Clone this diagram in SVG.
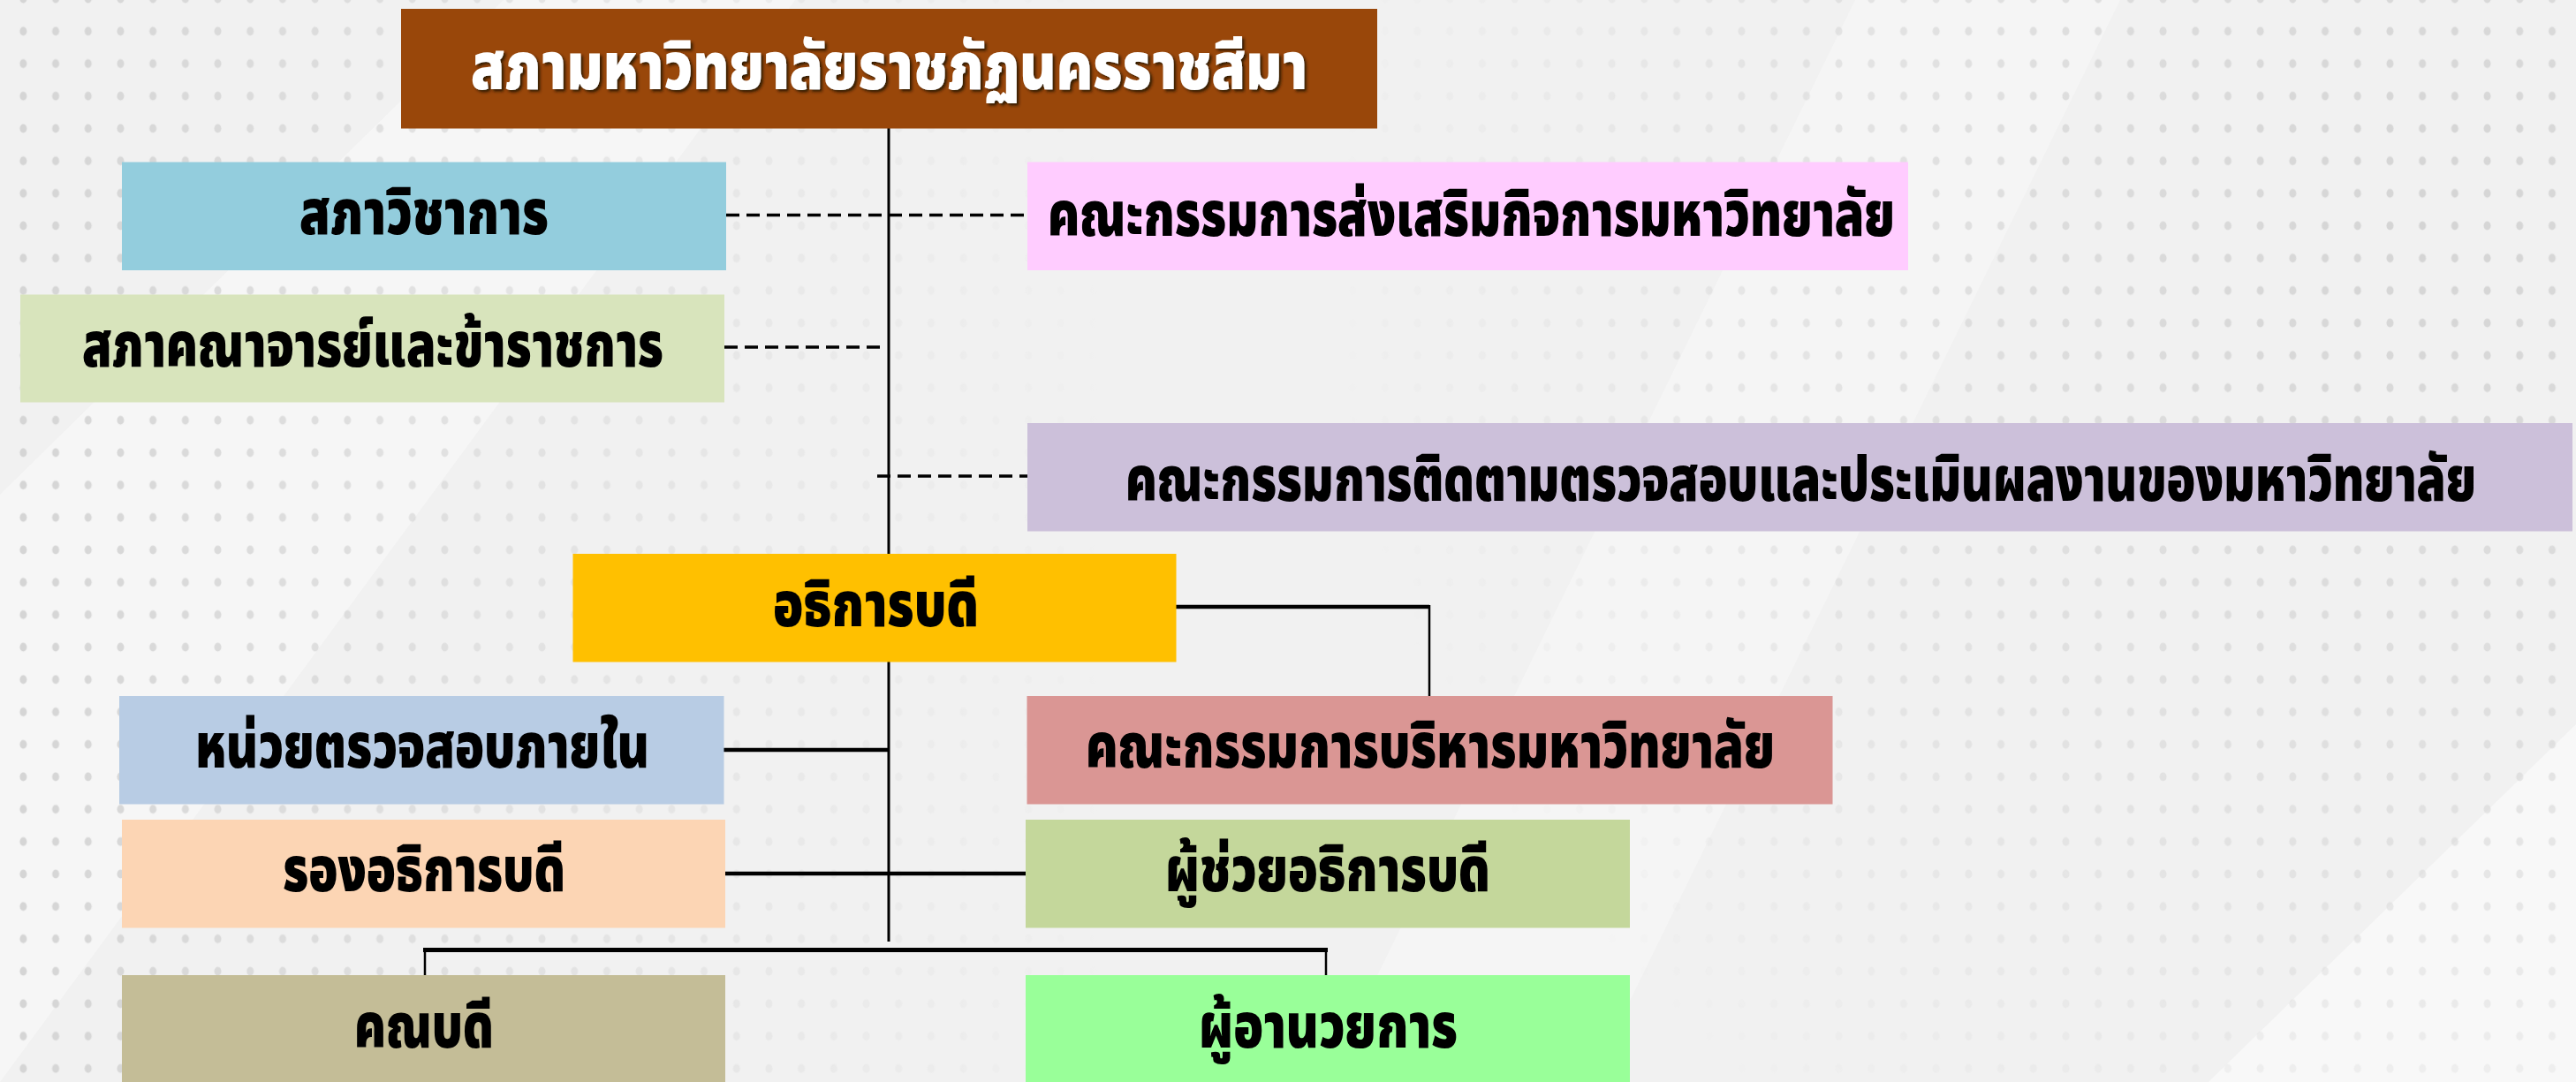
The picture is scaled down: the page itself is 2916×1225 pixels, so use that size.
<svg xmlns="http://www.w3.org/2000/svg" width="2916" height="1225" viewBox="0 0 2916 1225">
<defs>
<style>
.box{stroke:none}
.t{font-family:"Noto Sans Thai","Noto Sans","DejaVu Sans",sans-serif;font-weight:900;font-size:70px;fill:#000}
.title{fill:#fff;font-size:74px;filter:url(#shadow)}
.solid{stroke:#000;fill:none}
.dash{stroke:#000;stroke-width:3.5;stroke-dasharray:15 8;fill:none}
</style>
<filter id="shadow" x="-5%" y="-30%" width="110%" height="160%">
<feDropShadow dx="2.5" dy="2.5" stdDeviation="1.5" flood-color="#2a1200" flood-opacity="0.9"/>
</filter>
<pattern id="dots" patternUnits="userSpaceOnUse" x="8" y="17" width="36.7" height="36.7">
<ellipse cx="18.35" cy="18.35" rx="4" ry="5" fill="#d4d4d4"/>
</pattern>
<linearGradient id="gl" x1="0" y1="0" x2="1" y2="0">
<stop offset="0" stop-color="#fff" stop-opacity="1"/>
<stop offset="0.45" stop-color="#fff" stop-opacity="0.55"/>
<stop offset="1" stop-color="#fff" stop-opacity="0"/>
</linearGradient>
<radialGradient id="gr" cx="2750" cy="250" r="1250" gradientUnits="userSpaceOnUse">
<stop offset="0" stop-color="#fff" stop-opacity="1"/>
<stop offset="0.6" stop-color="#fff" stop-opacity="0.5"/>
<stop offset="1" stop-color="#fff" stop-opacity="0"/>
</radialGradient>
<mask id="ml"><rect x="0" y="0" width="1250" height="1225" fill="url(#gl)"/></mask>
<mask id="mr"><rect x="1400" y="0" width="1516" height="1225" fill="url(#gr)"/></mask>
</defs>

<g id="background">
<rect x="0" y="0" width="2916" height="1225" fill="#f1f1f1"/>
<polygon points="0,560 570,0 900,0 0,1225" fill="#f7f7f7" opacity="0.8"/>
<polygon points="1500,1225 2100,0 2400,0 1800,1225" fill="#f6f6f6" opacity="0.7"/>
<polygon points="2500,1225 2916,820 2916,1225" fill="#f8f8f8"/>
<rect x="0" y="0" width="1250" height="1225" fill="url(#dots)" mask="url(#ml)"/>
<rect x="1400" y="0" width="1516" height="1225" fill="url(#dots)" mask="url(#mr)"/>
</g>

<g id="connectors">
<line class="solid" x1="1006" y1="145" x2="1006" y2="627" stroke-width="3"/>
<line class="solid" x1="1006" y1="749" x2="1006" y2="1066" stroke-width="3"/>
<line class="dash" x1="822" y1="243.5" x2="1163" y2="243.5"/>
<line class="dash" x1="820" y1="393" x2="996" y2="393"/>
<line class="dash" x1="993" y1="539" x2="1163" y2="539"/>
<polyline class="solid" points="1331,687 1618,687" stroke-width="4.5"/>
<line class="solid" x1="1618" y1="685" x2="1618" y2="788" stroke-width="2.5"/>
<line class="solid" x1="819" y1="849" x2="1006" y2="849" stroke-width="4.5"/>
<line class="solid" x1="821" y1="989" x2="1161" y2="989" stroke-width="4.5"/>
<line class="solid" x1="479" y1="1075.5" x2="1503" y2="1075.5" stroke-width="5"/>
<line class="solid" x1="481" y1="1075" x2="481" y2="1104" stroke-width="2.5"/>
<line class="solid" x1="1501" y1="1075" x2="1501" y2="1104" stroke-width="2.5"/>
</g>

<g id="n-council">
<rect class="box" x="454" y="10" width="1105" height="135.5" fill="#99470a"/>
<text class="t title" x="533" y="101" textLength="947" lengthAdjust="spacingAndGlyphs">สภามหาวิทยาลัยราชภัฏนครราชสีมา</text>
</g>
<g id="n-academic">
<rect class="box" x="138" y="183.5" width="684" height="122.5" fill="#93cddd"/>
<text class="t" x="339" y="265" textLength="282" lengthAdjust="spacingAndGlyphs">สภาวิชาการ</text>
</g>
<g id="n-promotion">
<rect class="box" x="1163" y="183.5" width="997" height="122.5" fill="#ffccff"/>
<text class="t" x="1186" y="267" textLength="959" lengthAdjust="spacingAndGlyphs">คณะกรรมการส่งเสริมกิจการมหาวิทยาลัย</text>
</g>
<g id="n-faculty-senate">
<rect class="box" x="23" y="333.5" width="797" height="122" fill="#d8e4bc"/>
<text class="t" x="93" y="415" textLength="658" lengthAdjust="spacingAndGlyphs">สภาคณาจารย์และข้าราชการ</text>
</g>
<g id="n-monitoring">
<rect class="box" x="1163" y="479" width="1749" height="122.5" fill="#ccc0da"/>
<text class="t" x="1274" y="567" textLength="1529" lengthAdjust="spacingAndGlyphs">คณะกรรมการติดตามตรวจสอบและประเมินผลงานของมหาวิทยาลัย</text>
</g>
<g id="n-president">
<rect class="box" x="648.5" y="627" width="683" height="122.5" fill="#ffc000"/>
<text class="t" x="875" y="709" textLength="233" lengthAdjust="spacingAndGlyphs">อธิการบดี</text>
</g>
<g id="n-audit">
<rect class="box" x="135" y="788" width="684.5" height="122.5" fill="#b8cce4"/>
<text class="t" x="221" y="869" textLength="514" lengthAdjust="spacingAndGlyphs">หน่วยตรวจสอบภายใน</text>
</g>
<g id="n-executive">
<rect class="box" x="1162.5" y="788" width="912" height="122.5" fill="#da9694"/>
<text class="t" x="1229" y="869" textLength="780" lengthAdjust="spacingAndGlyphs">คณะกรรมการบริหารมหาวิทยาลัย</text>
</g>
<g id="n-vice-president">
<rect class="box" x="138" y="928" width="683" height="122.5" fill="#fcd5b4"/>
<text class="t" x="320" y="1009" textLength="320" lengthAdjust="spacingAndGlyphs">รองอธิการบดี</text>
</g>
<g id="n-assistant-president">
<rect class="box" x="1161" y="928" width="684" height="122.5" fill="#c4d79b"/>
<text class="t" x="1319" y="1009" textLength="368" lengthAdjust="spacingAndGlyphs">ผู้ช่วยอธิการบดี</text>
</g>
<g id="n-dean">
<rect class="box" x="138" y="1104" width="683" height="121" fill="#c4bd97"/>
<text class="t" x="401" y="1186" textLength="158" lengthAdjust="spacingAndGlyphs">คณบดี</text>
</g>
<g id="n-director">
<rect class="box" x="1161" y="1104" width="684" height="121" fill="#99ff99"/>
<text class="t" x="1357" y="1186" textLength="293" lengthAdjust="spacingAndGlyphs">ผู้อานวยการ</text>
</g>
</svg>
